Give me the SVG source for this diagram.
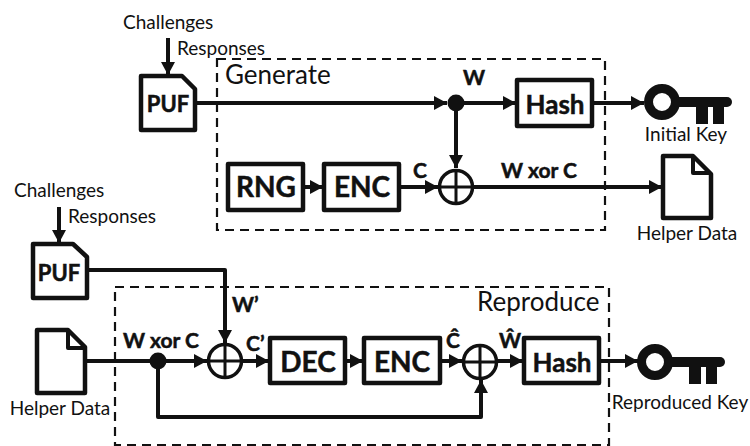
<svg xmlns="http://www.w3.org/2000/svg" width="750" height="446" viewBox="0 0 750 446">
<style>
text{font-family:"Lato","Open Sans","Liberation Sans",sans-serif;fill:#111}
.s{font-size:19px}
.b{font-weight:700;stroke:#111;stroke-width:.5}
.l{font-size:21px;font-weight:700;stroke:#111;stroke-width:.5}
.t{font-size:26px}
.box{fill:#fff;stroke:#111;stroke-width:4.5;stroke-linejoin:round}
.c{fill:none;stroke:#111;stroke-width:4;stroke-linejoin:round}
.a{marker-end:url(#ah)}
.d{fill:none;stroke:#111;stroke-width:2.2;stroke-dasharray:9 6}
.x{fill:#fff;stroke:#111;stroke-width:3.5}
.m{text-anchor:middle}
</style>
<defs>
<marker id="ah" markerUnits="userSpaceOnUse" markerWidth="14" markerHeight="16" refX="13" refY="8" orient="auto"><path d="M0 1L13 8L0 15Z" fill="#111"/></marker>
<g id="xor"><circle r="16.5" class="x"/><path d="M-16.5 0H16.5M0 -16.5V16.5" stroke="#111" stroke-width="3"/></g>
<g id="key"><circle r="13.5" fill="#fff" stroke="#111" stroke-width="9"/><path d="M15 0H65" stroke="#111" stroke-width="10" stroke-linecap="round"/><path d="M34 0H46V22H34ZM51 0H62V22H51Z" fill="#111"/></g>
</defs>
<g id="frames">
<rect class="d" x="217" y="59" width="388" height="171"/>
<rect class="d" x="115" y="287" width="494" height="158"/>
</g>
<g id="connectors">
<path class="c a" d="M168 38V75"/>
<path class="c a" d="M195 103H447"/>
<path class="c a" d="M456 103H516"/>
<path class="c a" d="M592 103H644"/>
<path class="c a" d="M456 103V168"/>
<path class="c a" d="M303 187H323"/>
<path class="c a" d="M399 187H438"/>
<path class="c a" d="M473 187H662"/>
<path class="c a" d="M59 207V243"/>
<path class="c a" d="M87 270H225V343"/>
<path class="c a" d="M85 361H207"/>
<path class="c a" d="M242 361H269"/>
<path class="c a" d="M158 361V417H481V380"/>
<path class="c a" d="M345 361H363"/>
<path class="c a" d="M440 361H462"/>
<path class="c a" d="M497 361H523"/>
<path class="c a" d="M599 361H638"/>
<circle cx="456" cy="103" r="8.5" fill="#111"/>
<circle cx="158" cy="361" r="8.5" fill="#111"/>
</g>
<g id="puf1"><path class="box" d="M141 76H182L195 89V130H141Z"/><text class="b m" x="168" y="112" font-size="22">PUF</text></g>
<g id="puf2"><path class="box" d="M33 244H73L87 257V298H33Z"/><text class="b m" x="59" y="281" font-size="22">PUF</text></g>
<g id="hash1"><rect class="box" x="517" y="80" width="75" height="46"/><text class="b m" x="555" y="114" font-size="26">Hash</text></g>
<g id="rng"><rect class="box" x="228" y="164" width="75" height="46"/><text class="b m" x="266" y="197" font-size="28">RNG</text></g>
<g id="enc1"><rect class="box" x="324" y="164" width="75" height="46"/><text class="b m" x="362" y="197" font-size="28">ENC</text></g>
<g id="xor1"><use href="#xor" x="456" y="187"/></g>
<g id="key1"><use href="#key" x="662" y="102"/><text class="s m" x="686" y="141">Initial Key</text></g>
<g id="doc1"><path class="box" d="M663 156H693L711 174V218H663Z"/><path class="c" d="M693 156V173H711"/><text class="s m" x="687" y="240">Helper Data</text></g>
<g id="doc2"><path class="box" d="M37 330H68L85 347V393H37Z"/><path class="c" d="M68 330V348H85"/><text class="s m" x="60" y="415">Helper Data</text></g>
<g id="dec"><rect class="box" x="270" y="338" width="75" height="45"/><text class="b m" x="308" y="372" font-size="28">DEC</text></g>
<g id="enc2"><rect class="box" x="364" y="338" width="76" height="45"/><text class="b m" x="402" y="372" font-size="28">ENC</text></g>
<g id="xor2"><use href="#xor" x="225" y="361"/></g>
<g id="xor3"><use href="#xor" x="480" y="362"/></g>
<g id="hash2"><rect class="box" x="524" y="338" width="75" height="45"/><text class="b m" x="562" y="372" font-size="26">Hash</text></g>
<g id="key2"><use href="#key" x="655" y="362"/><text class="s m" x="680" y="409">Reproduced Key</text></g>
<g id="labels">
<text class="s" x="123" y="29">Challenges</text>
<text class="s" x="177" y="55">Responses</text>
<text class="t" x="225" y="84">Generate</text>
<text class="l" x="463" y="85">W</text>
<text class="l" x="413" y="178">C</text>
<text class="l" x="501" y="178">W xor C</text>
<text class="s" x="14" y="197">Challenges</text>
<text class="s" x="68" y="223">Responses</text>
<text class="l" x="232" y="312">W’</text>
<text class="l" x="123" y="348">W xor C</text>
<text class="l" x="246" y="351">C’</text>
<text class="t" x="477" y="311">Reproduce</text>
<text class="l m" x="453" y="348">Ĉ</text>
<text class="l m" x="510" y="348">Ŵ</text>
</g>
</svg>
